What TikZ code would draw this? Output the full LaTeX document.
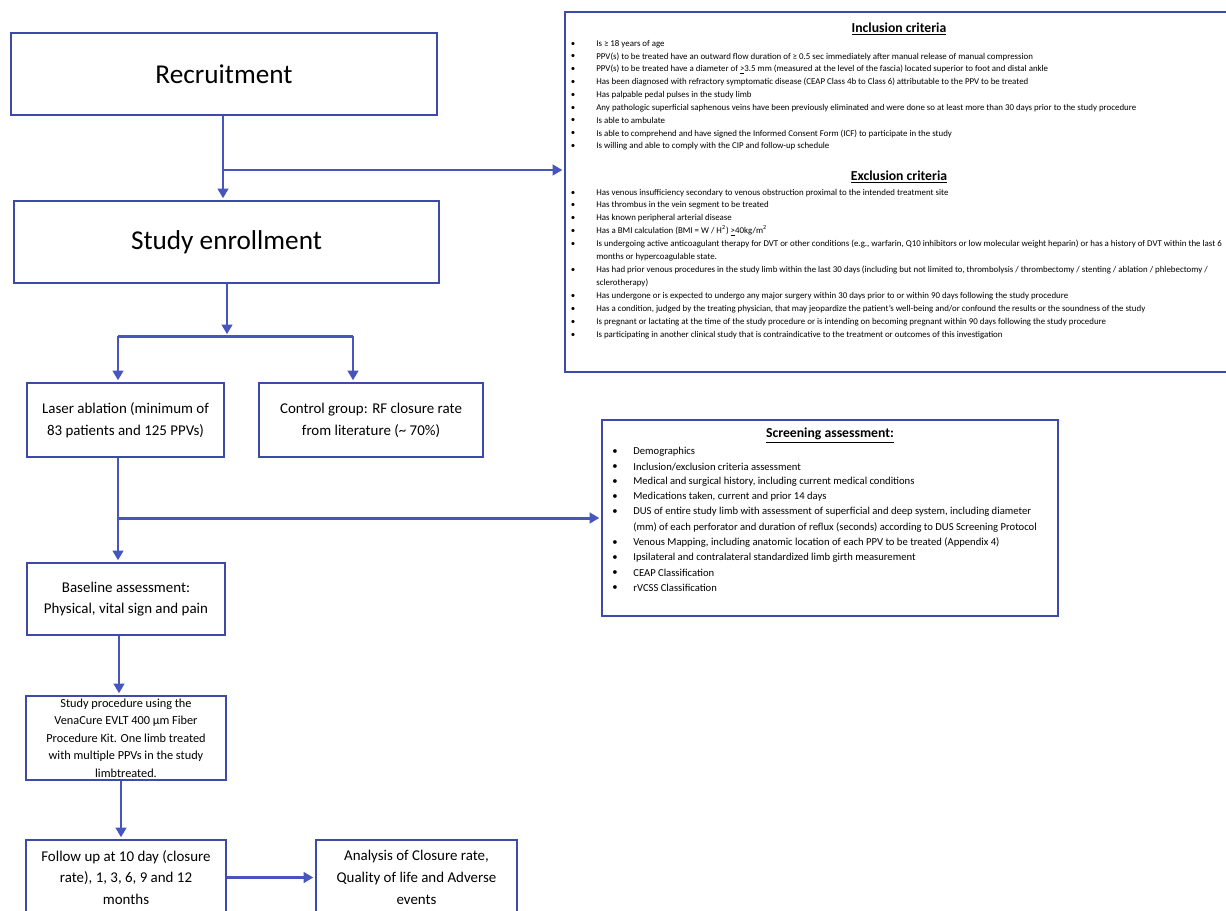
\documentclass[tikz,border=0pt]{standalone}
\usepackage{fontspec}
\setmainfont{Carlito}
\usepackage{tikz}
\usetikzlibrary{arrows.meta}
\definecolor{flowblue}{RGB}{70,86,188}
\definecolor{boxblue}{RGB}{62,74,168}
\newcommand{\bigfont}{\fontsize{15.5}{18}\selectfont}
\newcommand{\midfont}{\fontsize{8.5}{12.4}\selectfont}
\newcommand{\procfont}{\fontsize{7}{9.9}\selectfont}
\newcommand{\critfont}{\fontsize{5.05}{7}\selectfont}
\newcommand{\scrfont}{\fontsize{6.05}{8}\selectfont}
\newcommand{\headfont}{\fontsize{7.8}{9}\selectfont}
% bullet line: name, x, y, text
\newcommand{\critItem}[4]{%
    \node[critdot] (#1b) at (#2-23,#3) {\textbullet};
    \node[crittext] (#1) at (#2,#3) {#4};
}
\newcommand{\scrItem}[3]{%
    \node[critdot, font=\scrfont] (#1b) at (615,#2) {\textbullet};
    \node[crittext, font=\scrfont] (#1) at (633,#2) {#3};
}
\tikzset{
    flowbox/.style={draw=boxblue, line width=1.1pt, inner sep=0pt, align=center, font=\midfont},
    flowline/.style={draw=flowblue, line width=1.7pt},
    flowarrow/.style={flowline, -{Triangle[length=5.5pt,width=6pt]}, shorten >=1pt},
    crittext/.style={anchor=west, inner sep=0pt, font=\critfont},
    critdot/.style={inner sep=0pt, font=\critfont},
    headtext/.style={inner sep=0pt, font=\headfont}
}

\begin{document}
\begin{tikzpicture}[x=0.02cm, y=-0.02cm]
    \useasboundingbox (0,0) rectangle (1226,910);

    % left column
    \node[flowbox, font=\bigfont, minimum width=8.52cm, minimum height=1.64cm] (recruit) at (224,74) {Recruitment};
    \node[flowbox, font=\bigfont, minimum width=8.5cm, minimum height=1.64cm] (enroll) at (226.5,242) {Study enrollment};
    \node[flowbox, minimum width=3.94cm, minimum height=1.48cm] (laser) at (125.5,420) {Laser ablation (minimum of\\83 patients and 125 PPVs)};
    \node[flowbox, minimum width=4.48cm, minimum height=1.48cm] (control) at (371,420) {Control group: RF closure rate\\from literature (\textasciitilde{} 70\%)};
    \node[flowbox, minimum width=3.96cm, minimum height=1.44cm] (baseline) at (126,599) {Baseline assessment:\\Physical, vital sign and pain};
    \node[flowbox, font=\procfont, minimum width=4cm, minimum height=1.68cm] (proc) at (126,738) {Study procedure using the\\VenaCure EVLT 400 µm Fiber\\Procedure Kit. One limb treated\\with multiple PPVs in the study\\limbtreated.};
    \node[flowbox, minimum width=4cm, minimum height=1.5cm] (follow) at (126,877.5) {Follow up at 10 day (closure\\rate), 1, 3, 6, 9 and 12\\months};
    \node[flowbox, minimum width=4.02cm, minimum height=1.5cm] (analysis) at (416.5,877.5) {Analysis of Closure rate,\\Quality of life and Adverse\\events};

    % criteria boxes
    \node[flowbox, minimum width=13.36cm, minimum height=7.2cm] (incl) at (899,192) {};
    \node[flowbox, minimum width=9.12cm, minimum height=3.92cm] (screen) at (830,518) {};

    % connectors
    \coordinate (toIncl) at (223,170);
    \draw[flowarrow] (recruit.south -| toIncl) -- (enroll.north -| toIncl);
    \draw[flowarrow] (toIncl) -- (toIncl -| incl.west);
    \coordinate (split) at (227,336);
    \coordinate (splitL) at (118,336);
    \coordinate (splitR) at (353,336);
    \draw[flowarrow] (enroll.south -| split) -- (split);
    \draw[flowline] (splitL) -- (splitR);
    \draw[flowarrow] (splitL) -- (splitL |- laser.north);
    \draw[flowarrow] (splitR) -- (splitR |- control.north);
    \coordinate (toScreen) at (118,518);
    \draw[flowarrow] (laser.south -| toScreen) -- (toScreen |- baseline.north);
    \draw[flowarrow] (toScreen) -- (toScreen -| screen.west);
    \coordinate (spineA) at (119,0);
    \coordinate (spineB) at (121,0);
    \draw[flowarrow] (baseline.south -| spineA) -- (proc.north -| spineA);
    \draw[flowarrow] (proc.south -| spineB) -- (follow.north -| spineB);
    \draw[flowarrow] (follow.east) -- (follow.east -| analysis.west);

    % inclusion / exclusion text
    \node[headtext] (inclHead) at (899,29) {\textbf{\underline{Inclusion criteria}}};
    \foreach \t [count=\k, evaluate=\k as \yy using 44+12.8*(\k-1)] in {%
        {Is ≥ 18 years of age},
        {PPV(s) to be treated have an outward flow duration of ≥ 0.5 sec immediately after manual release of manual compression},
        {PPV(s) to be treated have a diameter of \underline{>}3.5 mm (measured at the level of the fascia) located superior to foot and distal ankle},
        {Has been diagnosed with refractory symptomatic disease (CEAP Class 4b to Class 6) attributable to the PPV to be treated},
        {Has palpable pedal pulses in the study limb},
        {Any pathologic superficial saphenous veins have been previously eliminated and were done so at least more than 30 days prior to the study procedure},
        {Is able to ambulate},
        {Is able to comprehend and have signed the Informed Consent Form (ICF) to participate in the study},
        {Is willing and able to comply with the CIP and follow-up schedule}} {
        \critItem{inc\k}{596}{\yy}{\t}
    }
    \node[headtext] (exclHead) at (899,177) {\textbf{\underline{Exclusion criteria}}};
    \critItem{exc1}{596}{193}{Has venous insufficiency secondary to venous obstruction proximal to the intended treatment site}
    \critItem{exc2}{596}{205}{Has thrombus in the vein segment to be treated}
    \critItem{exc3}{596}{218}{Has known peripheral arterial disease}
    \critItem{exc4}{596}{231}{Has a BMI calculation (BMI = W / H\textsuperscript{2}) \underline{>}40kg/m\textsuperscript{2}}
    \critItem{exc5}{596}{244}{Is undergoing active anticoagulant therapy for DVT or other conditions (e.g., warfarin, Q10 inhibitors or low molecular weight heparin) or has a history of DVT within the last 6}
    \node[crittext] (exc5b) at (596,257) {months or hypercoagulable state.};
    \critItem{exc6}{596}{270}{Has had prior venous procedures in the study limb within the last 30 days (including but not limited to, thrombolysis / thrombectomy / stenting / ablation / phlebectomy /}
    \node[crittext] (exc6b) at (596,283) {sclerotherapy)};
    \critItem{exc7}{596}{296}{Has undergone or is expected to undergo any major surgery within 30 days prior to or within 90 days following the study procedure}
    \critItem{exc8}{596}{309}{Has a condition, judged by the treating physician, that may jeopardize the patient’s well-being and/or confound the results or the soundness of the study}
    \critItem{exc9}{596}{322}{Is pregnant or lactating at the time of the study procedure or is intending on becoming pregnant within 90 days following the study procedure}
    \critItem{exc10}{596}{335}{Is participating in another clinical study that is contraindicative to the treatment or outcomes of this investigation}

    % screening text
    \node[headtext] (scrHead) at (830,436) {\textbf{\underline{Screening assessment:}}};
    \scrItem{scr1}{452}{Demographics}
    \scrItem{scr2}{467}{Inclusion/exclusion criteria assessment}
    \scrItem{scr3}{482}{Medical and surgical history, including current medical conditions}
    \scrItem{scr4}{497}{Medications taken, current and prior 14 days}
    \scrItem{scr5}{512}{DUS of entire study limb with assessment of superficial and deep system, including diameter}
    \node[crittext, font=\scrfont] (scr5b) at (633,528) {(mm) of each perforator and duration of reflux (seconds) according to DUS Screening Protocol};
    \scrItem{scr6}{543}{Venous Mapping, including anatomic location of each PPV to be treated (Appendix 4)}
    \scrItem{scr7}{558}{Ipsilateral and contralateral standardized limb girth measurement}
    \scrItem{scr8}{573}{CEAP Classification}
    \scrItem{scr9}{588}{rVCSS Classification}
\end{tikzpicture}
\end{document}
